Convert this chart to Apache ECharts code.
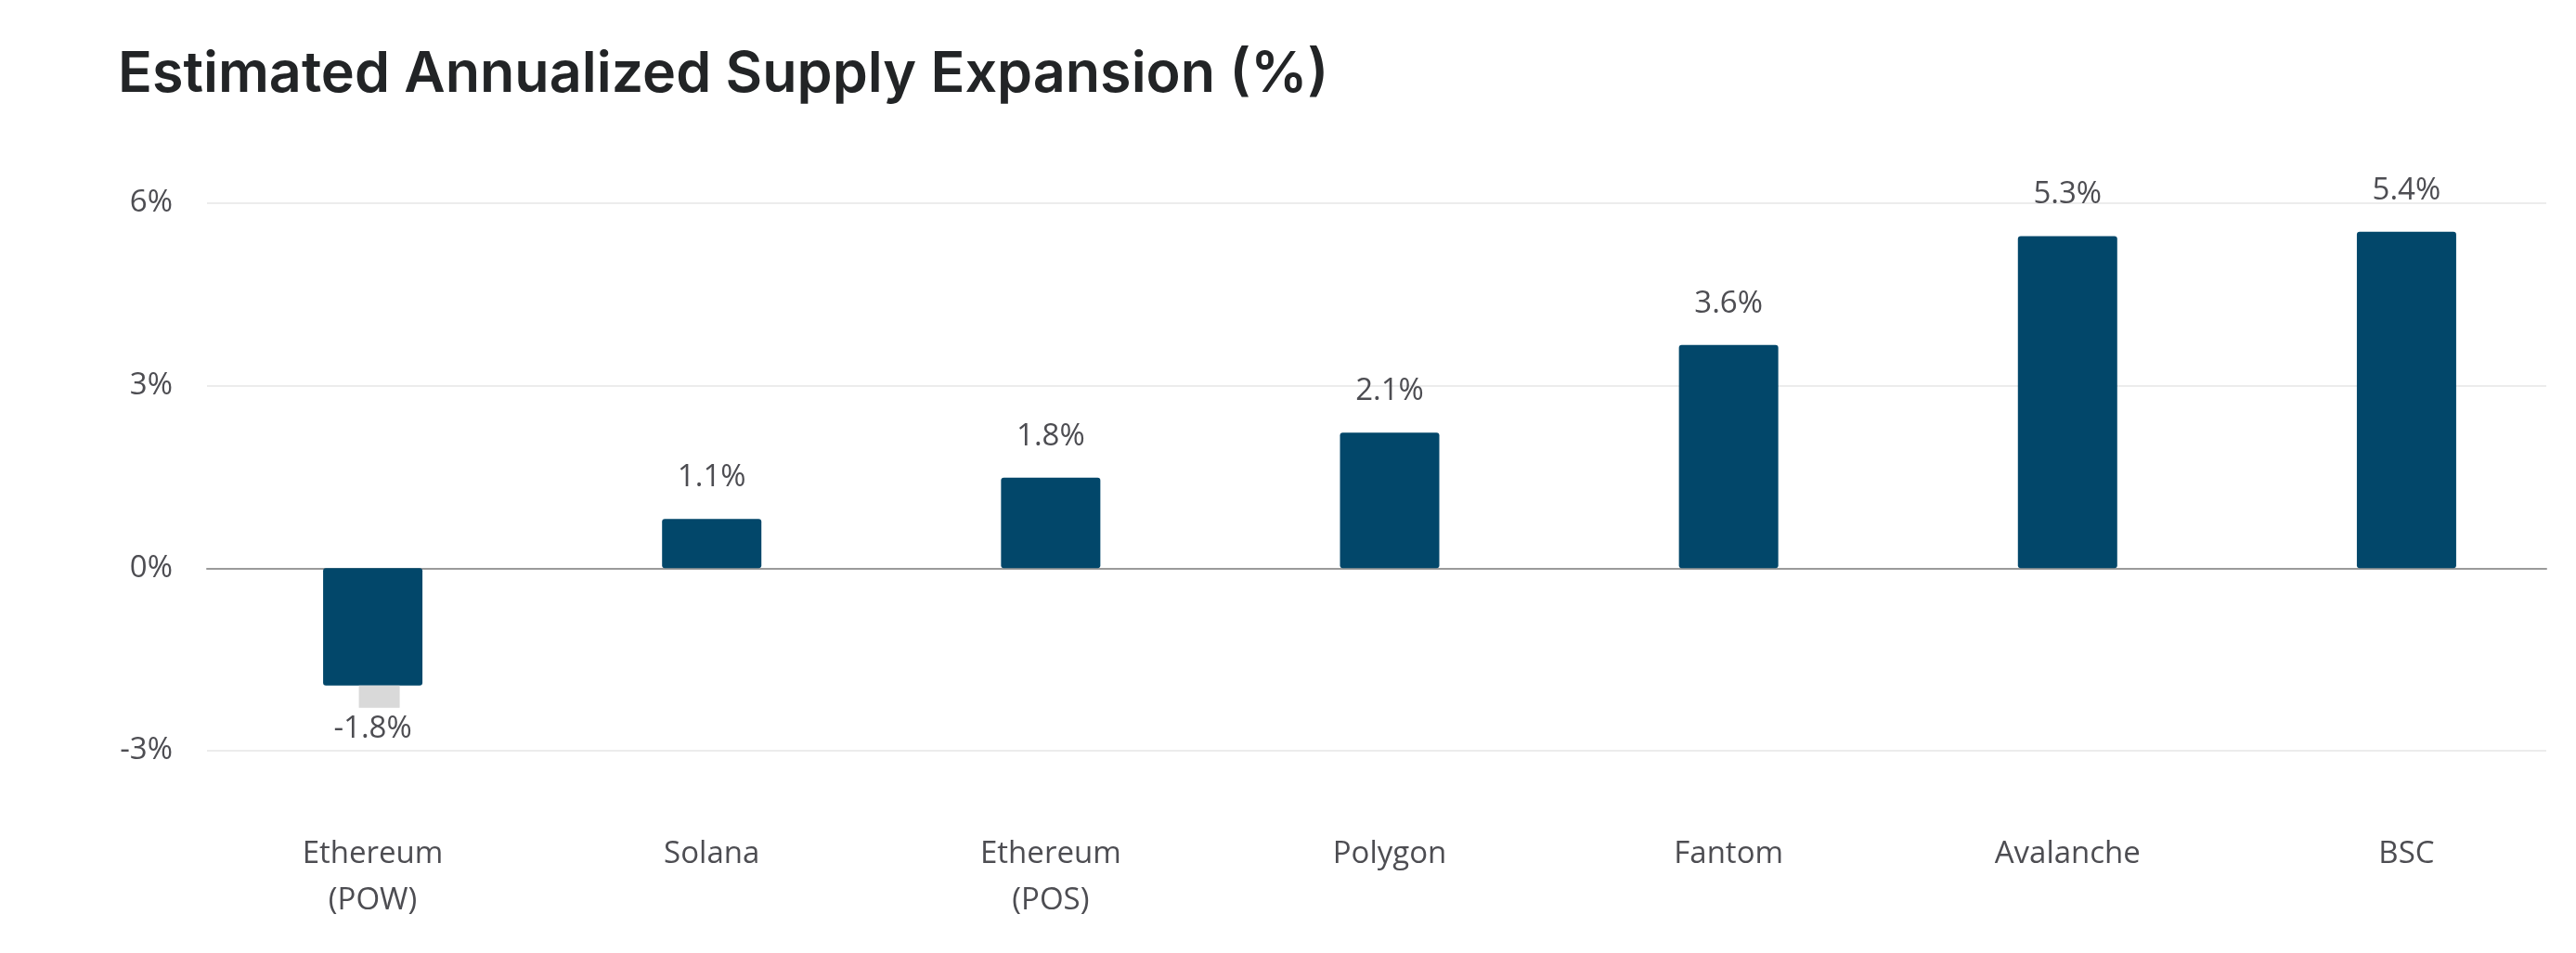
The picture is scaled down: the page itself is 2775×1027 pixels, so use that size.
<!DOCTYPE html>
<html>
<head>
<meta charset="utf-8">
<script src="https://cdn.jsdelivr.net/npm/echarts@6/dist/echarts.min.js"></script>
<style>
  html, body { margin: 0; padding: 0; background: #ffffff; }
  #chart { width: 2775px; height: 1027px; }
</style>
</head>
<body>
<div id="chart"></div>
<script>
// ---- Data ----
var titleText = 'Estimated Annualized Supply Expansion (%)';
var categories = ['Ethereum\n(POW)', 'Solana', 'Ethereum\n(POS)', 'Polygon', 'Fantom', 'Avalanche', 'BSC'];
var values = [-1.93, 0.81, 1.49, 2.23, 3.67, 5.46, 5.53];
var valueLabels = ['-1.8%', '1.1%', '1.8%', '2.1%', '3.6%', '5.3%', '5.4%'];
var yTicks = [-3, 0, 3, 6];

var textColor = '#4d4d52';
var barColor = '#02476a';
var labelFont = 'Open Sans';

var chart = echarts.init(document.getElementById('chart'), null, { renderer: 'canvas' });

var barData = values.map(function (v, i) {
  var item = { value: v };
  if (v < 0) {
    item.label = {
      position: 'bottom',
      distance: 0,
      formatter: '{sp|}{box|}\n{t|' + valueLabels[i] + '}'
    };
  }
  return item;
});

var option = {
  backgroundColor: '#ffffff',
  animation: false,
  title: {
    text: titleText,
    left: 122,
    top: 45,
    textStyle: {
      fontFamily: 'Inter',
      fontWeight: 600,
      fontSize: 61,
      color: '#222426'
    }
  },
  grid: [
    { left: 223, width: 2520, top: 219, height: 590 },
    { left: 219, width: 2564, top: 219, height: 590 }
  ],
  xAxis: [
    {
      gridIndex: 0,
      type: 'category',
      data: categories,
      axisLine: { show: true, onZero: true, lineStyle: { color: '#9a9a9a', width: 2 } },
      axisTick: { show: false },
      axisLabel: { show: false },
      splitLine: { show: false }
    },
    {
      gridIndex: 1,
      type: 'category',
      data: categories,
      axisLine: { show: false, onZero: false },
      axisTick: { show: false },
      axisLabel: {
        show: true,
        margin: 87,
        color: textColor,
        fontFamily: labelFont,
        fontSize: 33,
        lineHeight: 50,
        interval: 0
      },
      splitLine: { show: false }
    }
  ],
  yAxis: [
    {
      gridIndex: 0,
      type: 'value',
      min: yTicks[0],
      max: yTicks[yTicks.length - 1],
      interval: 3,
      axisLine: { show: false },
      axisTick: { show: false },
      axisLabel: {
        margin: 37,
        color: textColor,
        fontFamily: labelFont,
        fontSize: 33,
        formatter: function (v) { return v + '%'; }
      },
      splitLine: { show: true, lineStyle: { color: '#ececec', width: 2 } }
    },
    {
      gridIndex: 1,
      type: 'value',
      min: yTicks[0],
      max: yTicks[yTicks.length - 1],
      interval: 3,
      axisLine: { show: false },
      axisTick: { show: false },
      axisLabel: { show: false },
      splitLine: { show: false }
    }
  ],
  series: [
    {
      type: 'bar',
      xAxisIndex: 1,
      yAxisIndex: 1,
      data: barData,
      barWidth: 107,
      itemStyle: { color: barColor, borderRadius: 3 },
      label: {
        show: true,
        position: 'top',
        distance: 28,
        color: textColor,
        fontFamily: labelFont,
        fontSize: 33,
        formatter: function (p) { return valueLabels[p.dataIndex]; },
        rich: {
          sp: { width: 14, height: 24 },
          box: { width: 44, height: 24, backgroundColor: '#d9d9d9' },
          t: { color: textColor, fontFamily: labelFont, fontSize: 33, lineHeight: 46 }
        }
      },
      z: 3
    }
  ]
};

chart.setOption(option);
</script>
</body>
</html>
